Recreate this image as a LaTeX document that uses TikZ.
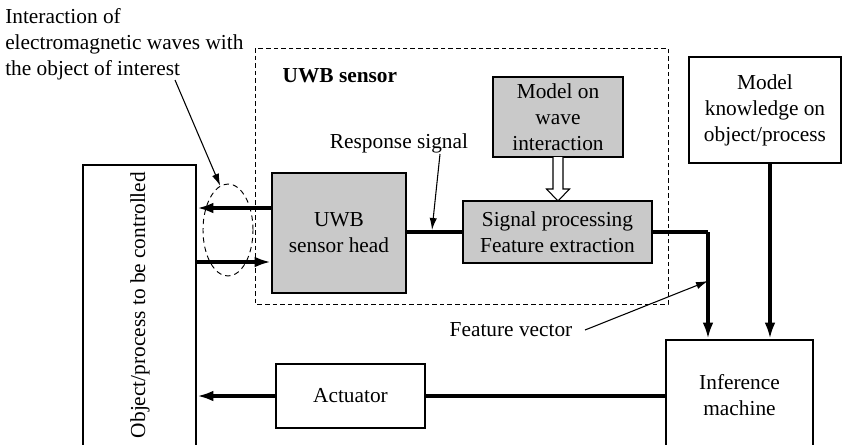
\documentclass[tikz,border=0pt]{standalone}
\usepackage{fontspec}
\setmainfont{Liberation Serif}
\usetikzlibrary{arrows.meta, shapes.geometric}
\begin{document}
\begin{tikzpicture}[x=0.75pt, y=-0.75pt,
  font=\fontsize{16}{19.5}\selectfont,
  blk/.style={draw, line width=2pt, inner sep=0pt, align=center},
  grayblk/.style={blk, fill=gray!42},
  wire/.style={line width=2.3pt},
  flow/.style={wire, -{Latex[length=12pt, width=8pt]}},
  pointer/.style={line width=0.8pt, -{Latex[length=9pt, width=5.5pt]}},
  dashbox/.style={line width=0.65pt, dash pattern=on 3.5pt off 2.2pt}]
\useasboundingbox (0,0) rectangle (843,444);
\clip (0,0) rectangle (843,444);

% UWB sensor enclosure
\draw[dashbox] (255,48) rectangle (668,304);
\node[anchor=west, font=\fontsize{16}{19.5}\selectfont\bfseries] (uwbt) at (278,76) {UWB sensor};

% blocks
\node[blk, minimum width=84.75pt, minimum height=228.75pt] (obj) at (139.5,317.5) {};
\node[rotate=90] (objt) at (140,305) {Object/process to be controlled};
\node[grayblk, minimum width=100.5pt, minimum height=90pt] (head) at (339,233) {UWB\\sensor head};
\node[grayblk, minimum width=141.75pt, minimum height=46.5pt] (sp) at (557.5,232) {Signal processing\\Feature extraction};
\node[grayblk, minimum width=97.5pt, minimum height=60pt] (mw) at (558,117) {Model on\\wave\\interaction};
\node[blk, minimum width=114pt, minimum height=79.5pt] (mk) at (765,110) {Model\\knowledge on\\object/process};
\node[blk, minimum width=110.25pt, minimum height=82.5pt] (inf) at (739.5,395) {Inference\\machine};
\node[blk, minimum width=111.75pt, minimum height=48pt] (act) at (350.5,396) {Actuator};

% interaction zone
\node[draw, ellipse, line width=0.7pt, dash pattern=on 4pt off 3pt,
      minimum width=37.5pt, minimum height=69pt] (ell) at (228,230) {};

% sensor head <-> object
\draw[flow] (head.west |- 0,208) -- (obj.east |- 0,208);
\draw[flow] (obj.east |- 0,262) -- (head.west |- 0,262);

% head -> signal processing
\draw[wire] (head.east |- sp.west) -- (sp.west);

% model on wave interaction -> signal processing (hollow arrow)
\draw[line width=0.8pt, fill=white]
  (553,157) -- (553,189) -- (546.5,189) -- (558,201) -- (569.5,189) -- (563,189) -- (563,157);

% feature vector to inference machine
\coordinate (fv) at (708,232);
\draw[wire] (sp.east) -- (fv);
\draw[flow] (fv) -- (fv |- inf.north);
\draw[flow] (770,0 |- mk.south) -- (770,0 |- inf.north);

% inference -> actuator -> object
\draw[wire] (inf.west |- act.east) -- (act.east);
\draw[flow] (act.west) -- (obj.east |- act.west);

% annotations
\node[anchor=north west, inner sep=0pt, align=left] (intt) at (5,8.5)
  {Interaction of\\electromagnetic waves with\\the object of interest};
\coordinate (intp) at (175,80);
\draw[pointer] (intp) -- (ell.100);

\node (rst) at (399,143) {Response signal};
\coordinate (rsp) at (440,154);
\coordinate (rsq) at (432,230);
\draw[pointer] (rsp) -- (rsq);

\node (fvt) at (511,330) {Feature vector};
\coordinate (fvq) at (708,281);
\draw[pointer] ([xshift=6pt]fvt.east) -- (fvq);
\end{tikzpicture}
\end{document}
